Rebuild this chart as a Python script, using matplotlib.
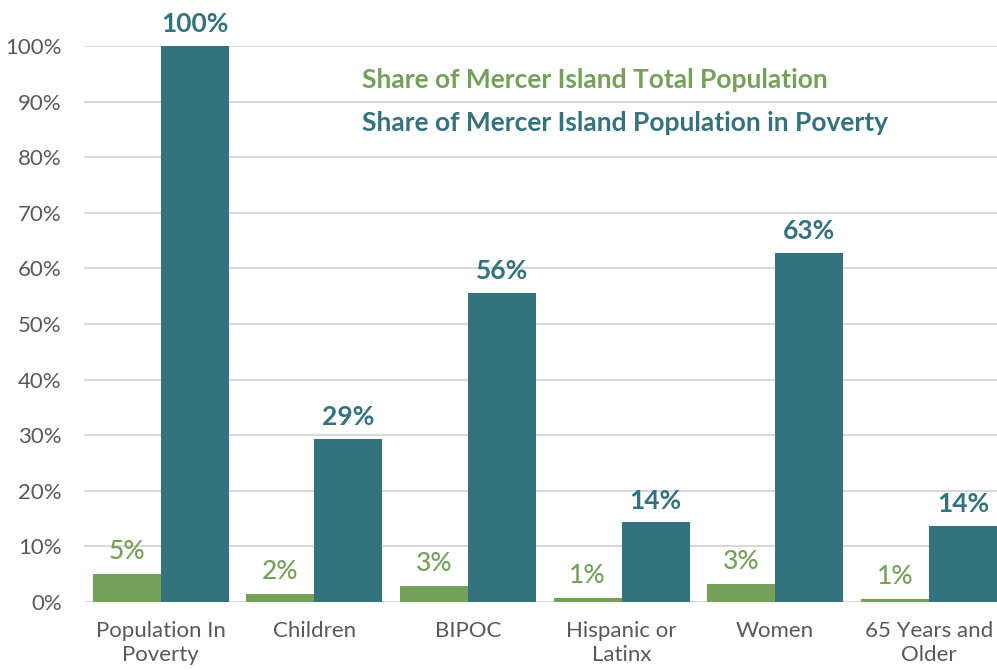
import matplotlib
matplotlib.use("Agg")
import matplotlib.pyplot as plt
import numpy as np

categories = ["Population In\nPoverty", "Children", "BIPOC", "Hispanic or\nLatinx", "Women", "65 Years and\nOlder"]
total_share = [5.0, 1.5, 2.9, 0.8, 3.3, 0.6]
poverty_share = [100.0, 29.3, 55.6, 14.3, 62.8, 13.7]
series_names = ["Share of Mercer Island Total Population", "Share of Mercer Island Population in Poverty"]
yticks = [0, 10, 20, 30, 40, 50, 60, 70, 80, 90, 100]

GREEN = "#75a05a"
TEAL = "#33737e"
GRAY = "#595959"

plt.rcParams['font.family'] = ['Lato', 'DejaVu Sans']

fig = plt.figure(figsize=(9.97, 6.70), dpi=100)
ax = fig.add_axes([84/997, 68/670, 6*153.6/997, (602-46)/670])

x = np.arange(len(categories))
w = 0.443
b1 = ax.bar(x - w/2, total_share, width=w, color=GREEN, zorder=3)
b2 = ax.bar(x + w/2, poverty_share, width=w, color=TEAL, zorder=3)

for rect, v in zip(b1, total_share):
    ax.annotate(f"{round(v)}%", (rect.get_x() + rect.get_width()/2, rect.get_height()),
                xytext=(0, 7), textcoords="offset points", ha="center", va="bottom",
                fontsize=19, color=GREEN, fontweight="medium", annotation_clip=False)
for rect, v in zip(b2, poverty_share):
    ax.annotate(f"{round(v)}%", (rect.get_x() + rect.get_width()/2, rect.get_height()),
                xytext=(0, 7), textcoords="offset points", ha="center", va="bottom",
                fontsize=19, color=TEAL, fontweight="bold", annotation_clip=False)

ax.set_xlim(-0.5, len(categories) - 0.5)
ax.set_ylim(0, 100)
ax.set_yticks(yticks)
ax.set_yticklabels([f"{t}%" for t in yticks])
ax.set_xticks(x)
ax.set_xticklabels(categories, linespacing=1.25)
ax.tick_params(axis="both", length=0, labelsize=16, labelcolor=GRAY)
ax.tick_params(axis="y", pad=16)
ax.tick_params(axis="x", pad=14)
ax.grid(axis="y", color="#d9d9d9", linewidth=1.5, zorder=0)
for s in ax.spines.values():
    s.set_visible(False)

fig.text(362/997, 1 - 80/670, series_names[0], color=GREEN, fontsize=19,
         fontweight="bold", ha="left", va="center")
fig.text(362/997, 1 - 123/670, series_names[1], color=TEAL, fontsize=19,
         fontweight="bold", ha="left", va="center")

fig.savefig("out.png", dpi=100)
